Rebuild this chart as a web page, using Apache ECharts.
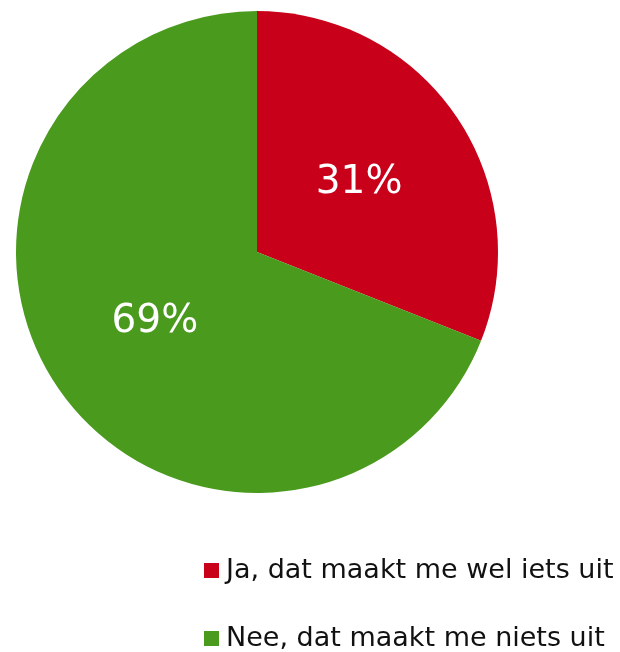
<!DOCTYPE html>
<html>
<head>
<meta charset="utf-8">
<script src="https://cdn.jsdelivr.net/npm/echarts@6/dist/echarts.min.js"></script>
<style>
  html, body { margin: 0; padding: 0; background: #fff; }
  #chart { width: 620px; height: 652px; }
</style>
</head>
<body>
<div id="chart"></div>
<script>
const categories = ['Ja, dat maakt me wel iets uit', 'Nee, dat maakt me niets uit']
const values = [31, 69]
const colors = ['#C8001A', '#4A9A1E']

const chart = echarts.init(document.getElementById('chart'))
chart.setOption({
  animation: false,
  textStyle: { fontFamily: 'DejaVu Sans, Verdana, sans-serif' },
  legend: {
    orient: 'vertical',
    left: 204,
    top: 557,
    width: 416,
    height: 95,
    padding: 0,
    itemWidth: 15,
    itemHeight: 15,
    itemGap: 41,
    icon: 'rect',
    textStyle: { fontSize: 27, color: '#111', padding: [0, 0, 0, 2] },
    data: categories
  },
  series: [{
    type: 'pie',
    center: [257, 252],
    radius: [0, 241],
    startAngle: 90,
    clockwise: true,
    label: {
      show: true,
      position: 'inside',
      formatter: '{d}%',
      color: '#fff',
      fontSize: 39,
      fontFamily: 'DejaVu Sans, Verdana, sans-serif'
    },
    labelLine: { show: false },
    emphasis: { disabled: true },
    data: categories.map((name, i) => ({
      name: name,
      value: values[i],
      itemStyle: { color: colors[i] }
    }))
  }]
})
</script>
</body>
</html>
